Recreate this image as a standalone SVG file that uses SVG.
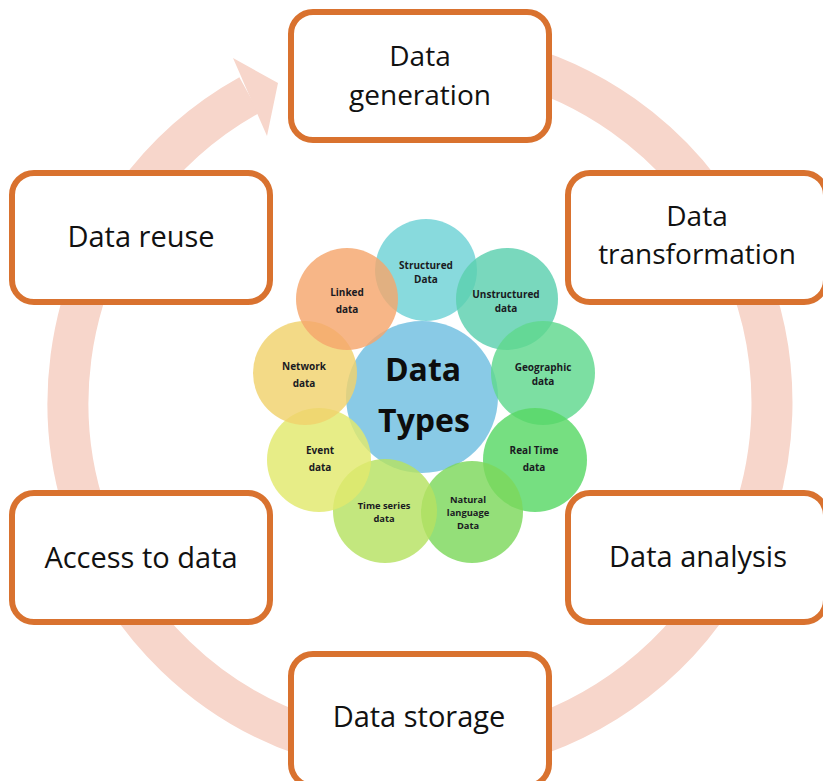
<svg xmlns="http://www.w3.org/2000/svg" width="823" height="781" viewBox="0 0 823 781">
<style>
.box{fill:#ffffff;stroke:#D9722F;stroke-width:6}
.lbl{font-family:"Open Sans","Noto Sans",sans-serif;font-size:29px;fill:#111111;text-anchor:middle}
.two{font-size:28px}
.c{fill-opacity:0.82}
.ct{font-family:"Open Sans","Noto Sans",sans-serif;font-size:10px;font-weight:bold;fill:#1a1a22;text-anchor:middle}
.cs{font-size:9.3px}
.big{font-family:"Open Sans","Noto Sans",sans-serif;font-size:32px;font-weight:bold;fill:#0d0d0d;text-anchor:middle}
</style>
<rect width="823" height="781" fill="#ffffff"/>
<g id="connectors">
  <path d="M 481.1 56.3 A 352 352 0 1 1 249.3 95.1" fill="none" stroke="#F7D6CB" stroke-width="41"/>
  <polygon points="233,58 278,83 267,136" fill="#F7D6CB"/>
</g>
<g id="node-generation">
  <rect class="box" x="291" y="12" width="258" height="128" rx="22"/>
  <text class="lbl two" x="420" y="66">Data</text>
  <text class="lbl two" x="420" y="104.5">generation</text>
</g>
<g id="node-transformation">
  <rect class="box" x="568" y="173" width="258" height="129" rx="22"/>
  <text class="lbl two" x="697" y="225.5">Data</text>
  <text class="lbl two" x="697" y="264">transformation</text>
</g>
<g id="node-analysis">
  <rect class="box" x="568" y="493" width="258" height="129" rx="22"/>
  <text class="lbl" x="698" y="567">Data analysis</text>
</g>
<g id="node-storage">
  <rect class="box" x="291" y="654" width="258" height="132" rx="22"/>
  <text class="lbl" x="419" y="727">Data storage</text>
</g>
<g id="node-access">
  <rect class="box" x="12" y="493" width="258" height="129" rx="22"/>
  <text class="lbl" x="141" y="568">Access to data</text>
</g>
<g id="node-reuse">
  <rect class="box" x="12" y="173" width="258" height="129" rx="22"/>
  <text class="lbl" x="141" y="247">Data reuse</text>
</g>
<g id="node-datatypes">
  <circle class="c" cx="422" cy="397" r="76" fill="#6FBEE0"/>
  <circle class="c" cx="426" cy="270" r="51" fill="#6ED2D6"/>
  <circle class="c" cx="507" cy="299" r="51" fill="#5CCFAE"/>
  <circle class="c" cx="543" cy="373" r="52" fill="#5FD88E"/>
  <circle class="c" cx="535" cy="460" r="52" fill="#58D865"/>
  <circle class="c" cx="472" cy="512" r="51" fill="#7CD85C"/>
  <circle class="c" cx="385" cy="511" r="52" fill="#B6E262"/>
  <circle class="c" cx="319" cy="460" r="52" fill="#E2E96C"/>
  <circle class="c" cx="305" cy="373" r="52" fill="#F0D26C"/>
  <circle class="c" cx="347" cy="299" r="51" fill="#F5A66C"/>
  <text class="big" x="423" y="381">Data</text>
  <text class="big" x="424" y="432">Types</text>
</g>
<g id="node-structured">
  <text class="ct" x="426" y="269">Structured</text>
  <text class="ct" x="426" y="283">Data</text>
</g>
<g id="node-unstructured">
  <text class="ct" x="506" y="298">Unstructured</text>
  <text class="ct" x="506" y="312">data</text>
</g>
<g id="node-geographic">
  <text class="ct" x="543" y="371">Geographic</text>
  <text class="ct" x="543" y="385">data</text>
</g>
<g id="node-realtime">
  <text class="ct" x="534" y="454">Real Time</text>
  <text class="ct" x="534" y="471">data</text>
</g>
<g id="node-natural">
  <text class="ct cs" x="468" y="503">Natural</text>
  <text class="ct cs" x="468" y="516">language</text>
  <text class="ct cs" x="468" y="529">Data</text>
</g>
<g id="node-timeseries">
  <text class="ct cs" x="384" y="509">Time series</text>
  <text class="ct cs" x="384" y="522">data</text>
</g>
<g id="node-event">
  <text class="ct" x="320" y="454">Event</text>
  <text class="ct" x="320" y="471">data</text>
</g>
<g id="node-network">
  <text class="ct" x="304" y="370">Network</text>
  <text class="ct" x="304" y="387">data</text>
</g>
<g id="node-linked">
  <text class="ct" x="347" y="296">Linked</text>
  <text class="ct" x="347" y="313">data</text>
</g>
</svg>
